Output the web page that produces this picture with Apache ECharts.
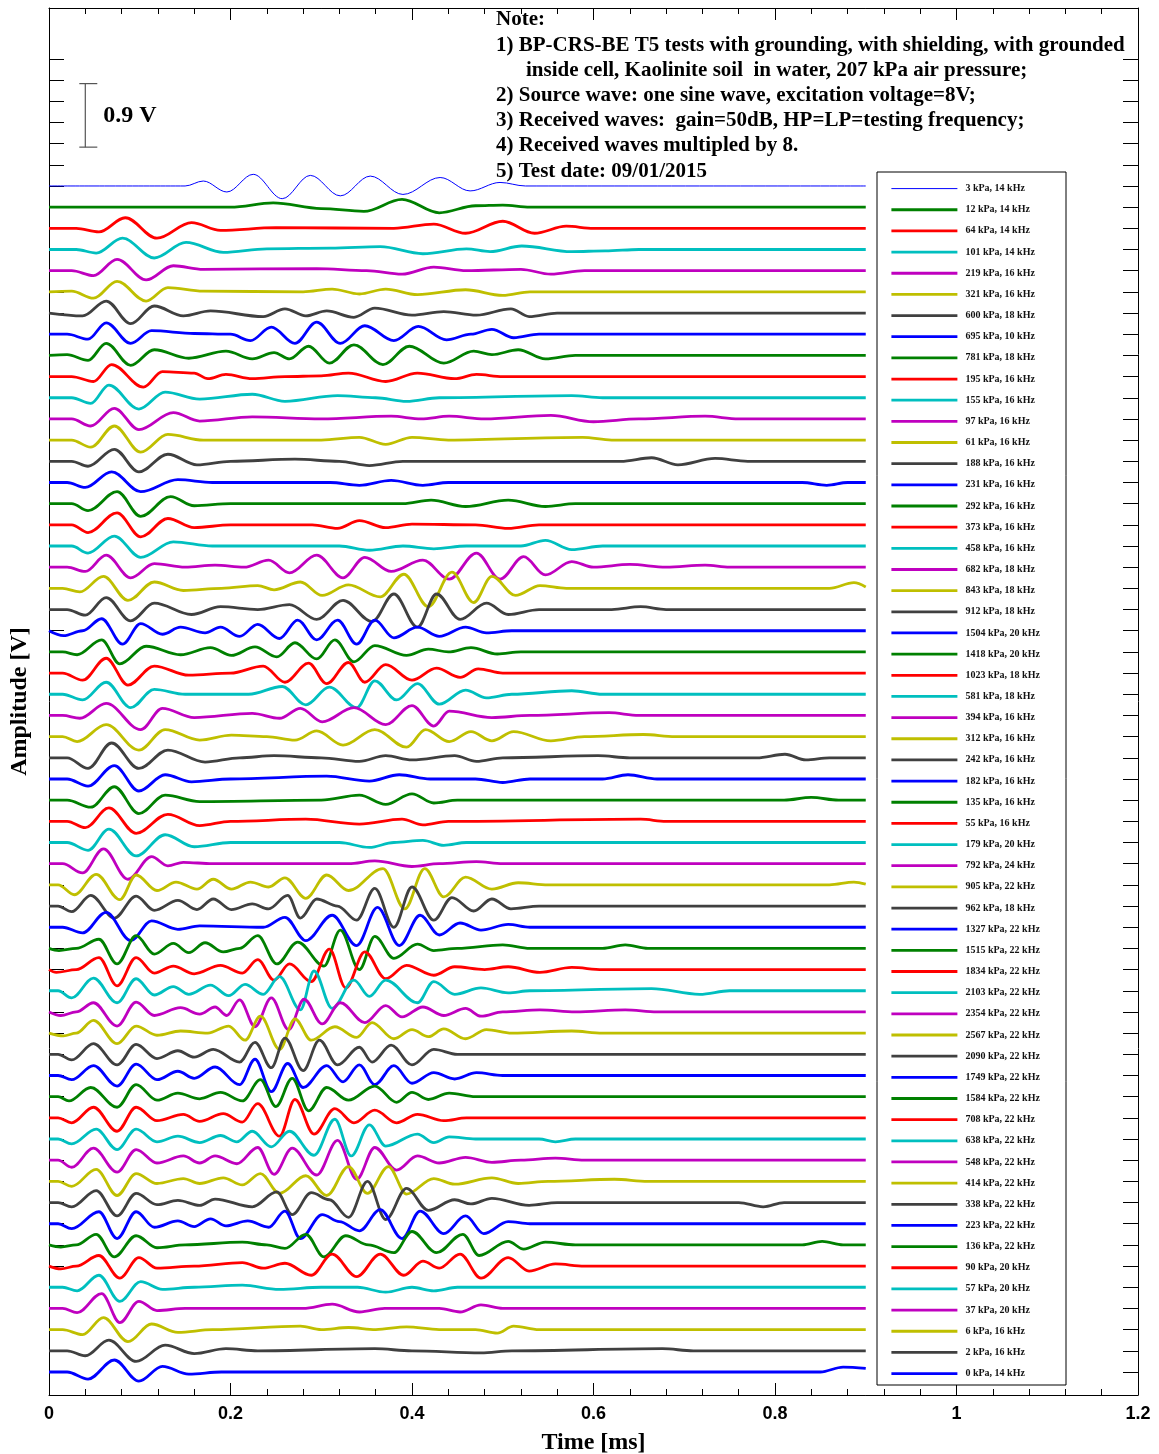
<!DOCTYPE html>
<html>
<head>
<meta charset="utf-8">
<script src="https://cdn.jsdelivr.net/npm/echarts@6/dist/echarts.min.js"></script>
<style>
  html, body { margin: 0; padding: 0; background: #fff; }
  #chart { width: 1159px; height: 1454px; }
</style>
</head>
<body>
<div id="chart"></div>
<script>
// legend labels: pressure (kPa) and test frequency (kHz), top trace first
const pressures = [3, 12, 64, 101, 219, 321, 600, 695, 781, 195, 155, 97, 61, 188, 231, 292, 373, 458, 682, 843,
  912, 1504, 1418, 1023, 581, 394, 312, 242, 182, 135, 55, 179, 792, 905, 962, 1327, 1515, 1834, 2103, 2354,
  2567, 2090, 1749, 1584, 708, 638, 548, 414, 338, 223, 136, 90, 57, 37, 6, 2, 0];
const freqs = [14, 14, 14, 14, 16, 16, 18, 10, 18, 16, 16, 16, 16, 16, 16, 16, 16, 16, 18, 18,
  18, 20, 20, 18, 18, 16, 16, 16, 16, 16, 16, 20, 24, 22, 18, 22, 22, 22, 22, 22,
  22, 22, 22, 22, 22, 22, 22, 22, 22, 22, 22, 20, 20, 20, 16, 16, 14];

// received waves, [time ms, amplitude V] (before vertical offset)
const wave00 = [[0,0],[0.150,0],[0.170,0.07],[0.196,-0.085],[0.225,0.165],[0.257,-0.18],[0.288,0.15],[0.321,-0.14],[0.354,0.14],[0.390,-0.12],[0.431,0.12],[0.464,-0.07],[0.497,0.05],[0.525,0],[0.9,0]];
const wave01 = [[0,0],[0.20,0],[0.247,0.06],[0.30,-0.02],[0.347,-0.06],[0.389,0.11],[0.43,-0.08],[0.47,0.02],[0.50,0.03],[0.53,0],[0.9,0]];
const wave02 = [[0,0],[0.03,0],[0.055,-0.05],[0.084,0.15],[0.119,-0.14],[0.157,0.08],[0.189,-0.03],[0.25,0.01],[0.38,0],[0.424,0.06],[0.459,-0.07],[0.500,0.10],[0.535,-0.07],[0.570,0.03],[0.60,0],[0.9,0]];
const wave03 = [[0,0],[0.03,0],[0.052,-0.05],[0.081,0.16],[0.116,-0.12],[0.151,0.10],[0.192,-0.04],[0.24,0.01],[0.31,0.02],[0.365,0.04],[0.412,-0.06],[0.46,0.01],[0.486,-0.03],[0.521,0.05],[0.576,-0.03],[0.613,-0.02],[0.65,0],[0.9,0]];
const wave04 = [[0,0],[0.025,0],[0.049,-0.07],[0.075,0.16],[0.107,-0.13],[0.137,0.07],[0.17,0.02],[0.295,0.03],[0.35,0],[0.389,-0.05],[0.424,0.05],[0.46,0],[0.52,0.02],[0.553,-0.05],[0.59,0],[0.9,0]];
const wave05 = [[0,0],[0.025,0.01],[0.049,-0.09],[0.075,0.15],[0.107,-0.13],[0.131,0.06],[0.17,0.01],[0.28,0],[0.312,0.04],[0.342,-0.03],[0.371,0.04],[0.406,-0.04],[0.459,0.03],[0.500,-0.05],[0.53,0],[0.9,0]];
const wave06 = [[0,0],[0.037,-0.04],[0.063,0.17],[0.090,-0.15],[0.116,0.10],[0.148,-0.04],[0.178,0.03],[0.236,-0.05],[0.260,0.06],[0.283,-0.04],[0.306,0.03],[0.336,-0.06],[0.359,0.07],[0.400,-0.03],[0.435,0.02],[0.471,-0.03],[0.509,0.06],[0.529,-0.05],[0.56,0],[0.9,0]];
const wave07 = [[0,0],[0.02,0],[0.043,-0.07],[0.063,0.16],[0.090,-0.13],[0.113,0.05],[0.16,0.01],[0.20,0],[0.222,-0.09],[0.245,0.10],[0.271,-0.13],[0.295,0.17],[0.321,-0.13],[0.348,0.12],[0.380,-0.09],[0.407,0.11],[0.438,-0.08],[0.465,0],[0.488,0.07],[0.512,-0.05],[0.54,0],[0.9,0]];
const wave08 = [[0,0],[0.02,0.01],[0.043,-0.07],[0.063,0.17],[0.090,-0.14],[0.116,0.08],[0.154,-0.04],[0.195,0.06],[0.224,-0.05],[0.248,0.04],[0.265,-0.05],[0.286,0.13],[0.309,-0.11],[0.336,0.15],[0.368,-0.13],[0.397,0.13],[0.435,-0.11],[0.468,0.06],[0.488,0.01],[0.517,0.08],[0.547,-0.05],[0.58,0],[0.9,0]];
const wave09 = [[0,0],[0.025,0],[0.049,-0.07],[0.069,0.17],[0.104,-0.15],[0.125,0.07],[0.16,0.05],[0.175,-0.03],[0.195,0.03],[0.224,-0.03],[0.26,0],[0.300,0.01],[0.330,0.05],[0.371,-0.07],[0.406,0.05],[0.447,-0.03],[0.471,0.03],[0.50,0],[0.9,0]];
const wave10 = [[0,0],[0.025,0],[0.046,-0.08],[0.066,0.18],[0.099,-0.16],[0.128,0.08],[0.166,-0.02],[0.224,0.05],[0.260,-0.05],[0.318,0.03],[0.36,0],[0.394,-0.05],[0.43,0],[0.576,0.03],[0.61,0],[0.9,0]];
const wave11 = [[0,0],[0.025,0],[0.046,-0.10],[0.072,0.15],[0.099,-0.15],[0.137,0.09],[0.166,-0.03],[0.224,0.03],[0.30,0],[0.377,0.04],[0.41,0],[0.441,0.04],[0.48,0],[0.553,0.05],[0.600,-0.04],[0.65,0],[0.723,0.04],[0.76,0],[0.9,0]];
const wave12 = [[0,0],[0.025,0],[0.046,-0.10],[0.072,0.20],[0.101,-0.17],[0.131,0.08],[0.17,0],[0.30,0],[0.342,0.04],[0.371,-0.06],[0.400,0.04],[0.44,0],[0.588,0.04],[0.62,0],[0.9,0]];
const wave13 = [[0,0],[0.025,0],[0.043,-0.07],[0.072,0.17],[0.099,-0.15],[0.131,0.10],[0.163,-0.05],[0.20,0],[0.271,0.03],[0.32,0],[0.353,-0.06],[0.39,0],[0.63,0],[0.664,0.05],[0.693,-0.05],[0.734,0.04],[0.77,0],[0.9,0]];
const wave14 = [[0,0],[0.02,0],[0.040,-0.07],[0.069,0.15],[0.101,-0.13],[0.142,0.04],[0.18,0],[0.31,0],[0.342,-0.04],[0.377,0.03],[0.412,-0.04],[0.44,0],[0.83,0],[0.857,-0.04],[0.88,0],[0.9,0]];
const wave15 = [[0,0],[0.025,0],[0.043,-0.10],[0.075,0.17],[0.101,-0.18],[0.134,0.10],[0.160,-0.03],[0.20,0],[0.39,0],[0.421,0.05],[0.459,-0.04],[0.506,0.05],[0.547,-0.04],[0.58,0],[0.9,0]];
const wave16 = [[0,0],[0.025,0],[0.043,-0.11],[0.075,0.17],[0.101,-0.17],[0.131,0.09],[0.160,-0.04],[0.20,0],[0.29,0],[0.318,-0.05],[0.342,0.06],[0.371,-0.04],[0.40,0.01],[0.47,0],[0.506,-0.05],[0.54,0],[0.9,0]];
const wave17 = [[0,0],[0.025,0],[0.043,-0.10],[0.072,0.14],[0.101,-0.16],[0.137,0.06],[0.18,0],[0.32,0],[0.353,-0.06],[0.39,0],[0.424,-0.04],[0.46,0],[0.52,0],[0.547,0.08],[0.576,-0.05],[0.61,0],[0.9,0]];
const wave18 = [[0,0],[0.02,0],[0.040,-0.06],[0.063,0.17],[0.090,-0.15],[0.116,0.05],[0.15,0],[0.183,0.03],[0.215,0],[0.242,0.10],[0.265,-0.08],[0.295,0.17],[0.324,-0.15],[0.348,0.14],[0.377,-0.06],[0.412,0.10],[0.441,-0.17],[0.471,0.20],[0.497,-0.17],[0.523,0.15],[0.547,-0.11],[0.576,0.08],[0.60,0],[0.640,0.04],[0.68,0],[0.723,0.03],[0.75,0],[0.9,0]];
const wave19 = [[0,0],[0.015,0],[0.034,-0.05],[0.060,0.17],[0.087,-0.17],[0.116,0.09],[0.148,-0.03],[0.19,0],[0.230,0.04],[0.248,-0.02],[0.277,0.09],[0.301,-0.10],[0.330,0.05],[0.365,-0.12],[0.391,0.20],[0.418,-0.26],[0.444,0.23],[0.468,-0.20],[0.488,0.17],[0.514,-0.10],[0.541,0.04],[0.57,0],[0.86,0],[0.887,0.08],[0.9,0.02]];
const wave20 = [[0,0],[0.02,0],[0.040,-0.08],[0.063,0.17],[0.090,-0.16],[0.116,0.09],[0.157,-0.07],[0.189,0.04],[0.23,0],[0.265,0.07],[0.295,-0.14],[0.324,0.13],[0.356,-0.17],[0.380,0.22],[0.406,-0.25],[0.427,0.22],[0.453,-0.14],[0.482,0.09],[0.506,-0.07],[0.54,0],[0.62,0],[0.652,0.04],[0.68,0],[0.9,0]];
const wave21 = [[0,0],[0.016,-0.07],[0.037,0],[0.058,0.17],[0.081,-0.19],[0.101,0.10],[0.125,-0.05],[0.145,0.05],[0.172,-0.03],[0.189,0.05],[0.210,-0.08],[0.230,0.09],[0.254,-0.11],[0.274,0.15],[0.295,-0.13],[0.318,0.15],[0.339,-0.19],[0.359,0.15],[0.380,-0.10],[0.406,0.05],[0.430,-0.08],[0.459,0.05],[0.482,-0.03],[0.51,0],[0.9,0]];
const wave22 = [[0,0],[0.015,0],[0.031,-0.04],[0.058,0.17],[0.078,-0.17],[0.107,0.08],[0.145,-0.04],[0.178,0.06],[0.201,-0.05],[0.227,0.07],[0.251,-0.07],[0.271,0.13],[0.295,-0.10],[0.315,0.17],[0.336,-0.14],[0.359,0.09],[0.394,-0.05],[0.418,0.04],[0.44,0],[0.465,0.06],[0.494,-0.03],[0.52,0],[0.9,0]];
const wave23 = [[0,0],[0.015,0],[0.037,-0.10],[0.063,0.21],[0.087,-0.17],[0.116,0.10],[0.154,-0.03],[0.20,0],[0.236,0.10],[0.260,-0.13],[0.286,0.14],[0.306,-0.15],[0.330,0.15],[0.348,-0.13],[0.371,0.12],[0.400,-0.10],[0.427,0.07],[0.453,-0.06],[0.473,0.06],[0.50,0],[0.9,0]];
const wave24 = [[0,0],[0.015,0],[0.037,-0.08],[0.063,0.17],[0.090,-0.19],[0.116,0.07],[0.15,0],[0.22,0],[0.257,0.11],[0.283,-0.15],[0.309,0.10],[0.339,-0.19],[0.359,0.19],[0.383,-0.08],[0.406,0.15],[0.430,-0.14],[0.459,0.06],[0.482,-0.05],[0.51,0],[0.576,0.05],[0.61,0],[0.9,0]];
const wave25 = [[0,0],[0.015,0],[0.034,-0.04],[0.063,0.17],[0.101,-0.20],[0.125,0.10],[0.160,-0.03],[0.224,0.03],[0.254,-0.04],[0.277,0.10],[0.301,-0.09],[0.336,0.11],[0.371,-0.13],[0.400,0.14],[0.424,-0.15],[0.441,0.06],[0.488,-0.03],[0.53,0],[0.617,0.04],[0.65,0],[0.9,0]];
const wave26 = [[0,0],[0.015,0],[0.031,-0.07],[0.063,0.17],[0.099,-0.19],[0.128,0.10],[0.166,-0.05],[0.201,0.02],[0.24,0],[0.271,-0.05],[0.295,0.08],[0.324,-0.12],[0.359,0.10],[0.394,-0.15],[0.415,0.10],[0.441,-0.07],[0.465,0.07],[0.488,-0.06],[0.512,0.07],[0.553,-0.06],[0.59,0],[0.655,0.03],[0.69,0],[0.9,0]];
const wave27 = [[0,0],[0.02,0],[0.043,-0.15],[0.069,0.21],[0.099,-0.15],[0.131,0.11],[0.172,-0.06],[0.21,0],[0.248,0.03],[0.30,0],[0.342,-0.05],[0.371,0.03],[0.400,-0.03],[0.447,0.03],[0.471,-0.05],[0.50,0],[0.605,0.03],[0.64,0],[0.78,0],[0.811,0.05],[0.834,-0.03],[0.86,0],[0.9,0]];
const wave28 = [[0,0],[0.02,0],[0.043,-0.10],[0.072,0.19],[0.099,-0.17],[0.128,0.06],[0.157,-0.04],[0.20,0],[0.306,0.04],[0.353,-0.03],[0.386,0.06],[0.42,0],[0.47,0],[0.500,-0.05],[0.53,0],[0.61,0],[0.638,0.06],[0.67,0],[0.9,0]];
const wave29 = [[0,0],[0.02,0],[0.046,-0.10],[0.072,0.19],[0.099,-0.19],[0.128,0.07],[0.166,-0.02],[0.30,0],[0.342,0.07],[0.371,-0.06],[0.400,0.09],[0.424,-0.04],[0.45,0],[0.81,0],[0.840,0.04],[0.87,0],[0.9,0]];
const wave30 = [[0,0],[0.02,0],[0.040,-0.09],[0.066,0.19],[0.096,-0.17],[0.131,0.10],[0.166,-0.06],[0.20,0],[0.283,0.03],[0.342,-0.04],[0.389,0.03],[0.412,-0.05],[0.44,0],[0.652,0.03],[0.68,0],[0.9,0]];
const wave31 = [[0,0],[0.02,0],[0.043,-0.11],[0.066,0.19],[0.096,-0.19],[0.128,0.11],[0.160,-0.06],[0.20,0],[0.32,0],[0.353,-0.07],[0.38,0],[0.412,0.03],[0.435,-0.04],[0.46,0],[0.9,0]];
const wave32 = [[0,0],[0.015,0],[0.037,-0.13],[0.060,0.21],[0.087,-0.22],[0.113,0.10],[0.131,-0.03],[0.148,0.02],[0.18,0],[0.33,0],[0.359,0.04],[0.400,-0.04],[0.43,0],[0.471,0.03],[0.50,0],[0.9,0]];
const wave33 = [[0,0],[0.01,0],[0.028,-0.14],[0.052,0.15],[0.078,-0.21],[0.096,0.14],[0.119,-0.08],[0.140,0.04],[0.163,-0.06],[0.181,0.08],[0.201,-0.06],[0.222,0.04],[0.242,-0.03],[0.260,0.10],[0.283,-0.19],[0.306,0.14],[0.330,-0.08],[0.368,0.23],[0.392,-0.34],[0.414,0.23],[0.435,-0.17],[0.459,0.11],[0.488,-0.06],[0.517,0.03],[0.55,0],[0.86,0],[0.887,0.04],[0.9,0.01]];
const wave34 = [[0,0],[0.01,0],[0.025,-0.08],[0.046,0.15],[0.072,-0.17],[0.096,0.14],[0.116,-0.06],[0.142,0.08],[0.163,-0.05],[0.181,0.10],[0.201,-0.05],[0.224,0.03],[0.242,-0.04],[0.263,0.15],[0.277,-0.17],[0.295,0.10],[0.318,0],[0.339,-0.20],[0.359,0.25],[0.380,-0.30],[0.400,0.27],[0.424,-0.20],[0.444,0.12],[0.468,-0.07],[0.488,0.10],[0.509,-0.04],[0.54,0],[0.9,0]];
const wave35 = [[0,0],[0.015,0],[0.037,-0.08],[0.063,0.21],[0.090,-0.19],[0.113,0.09],[0.142,-0.03],[0.166,0.02],[0.236,0],[0.260,0.14],[0.283,-0.19],[0.312,0.17],[0.339,-0.26],[0.362,0.28],[0.386,-0.26],[0.409,0.17],[0.430,-0.11],[0.453,0.06],[0.476,-0.04],[0.506,0.04],[0.53,0],[0.9,0]];
const wave36 = [[0,0],[0.011,-0.03],[0.03,0],[0.055,0.13],[0.075,-0.22],[0.096,0.18],[0.116,-0.08],[0.137,0.07],[0.154,-0.06],[0.172,0.08],[0.192,-0.05],[0.21,0],[0.230,0.18],[0.251,-0.22],[0.274,0.09],[0.303,-0.25],[0.321,0.26],[0.342,-0.30],[0.359,0.17],[0.380,-0.14],[0.406,0.06],[0.424,-0.03],[0.45,0],[0.500,0.05],[0.53,0],[0.61,0],[0.635,0.05],[0.66,0],[0.9,0]];
const wave37 = [[0,0],[0.008,-0.04],[0.03,0],[0.055,0.17],[0.075,-0.23],[0.096,0.17],[0.116,-0.05],[0.137,0.05],[0.160,-0.06],[0.189,0.06],[0.213,-0.05],[0.230,0.14],[0.248,-0.15],[0.265,0.08],[0.289,-0.17],[0.309,0.29],[0.327,-0.26],[0.348,0.25],[0.371,-0.13],[0.394,0.06],[0.424,-0.08],[0.447,0.04],[0.48,0],[0.506,0.04],[0.541,-0.04],[0.576,0.03],[0.61,0],[0.9,0]];
const wave38 = [[0,0],[0.01,0],[0.025,-0.10],[0.049,0.18],[0.075,-0.17],[0.096,0.17],[0.116,-0.06],[0.137,0.06],[0.154,-0.05],[0.178,0.08],[0.198,-0.07],[0.216,0.09],[0.236,-0.05],[0.254,0.20],[0.277,-0.27],[0.292,0.28],[0.312,-0.25],[0.336,0.15],[0.353,-0.08],[0.371,0.15],[0.406,-0.17],[0.424,0.13],[0.447,-0.05],[0.476,0.04],[0.506,-0.03],[0.53,0],[0.664,0.03],[0.717,-0.05],[0.75,0],[0.9,0]];
const wave39 = [[0,0],[0.013,-0.05],[0.03,0],[0.049,0.13],[0.075,-0.20],[0.096,0.14],[0.116,-0.05],[0.145,0.06],[0.166,-0.03],[0.183,0.07],[0.196,-0.05],[0.210,0.17],[0.227,-0.21],[0.245,0.20],[0.264,-0.25],[0.281,0.18],[0.301,-0.17],[0.321,0.13],[0.348,-0.15],[0.371,0.09],[0.389,-0.07],[0.412,0.07],[0.435,-0.05],[0.459,0.05],[0.476,-0.06],[0.50,0],[0.541,0.03],[0.58,0],[0.635,0.03],[0.67,0],[0.9,0]];
const wave40 = [[0,0],[0.016,-0.04],[0.03,0],[0.049,0.18],[0.075,-0.15],[0.096,0.10],[0.119,-0.03],[0.145,0.03],[0.175,0],[0.198,0.10],[0.216,-0.10],[0.233,0.24],[0.254,-0.23],[0.271,0.20],[0.289,-0.10],[0.315,0.09],[0.339,-0.06],[0.356,0.15],[0.380,-0.08],[0.400,0.05],[0.418,-0.05],[0.435,0.06],[0.459,-0.08],[0.482,0.05],[0.51,0],[0.576,0.03],[0.61,0],[0.9,0]];
const wave41 = [[0,0],[0.01,0],[0.025,-0.08],[0.049,0.15],[0.075,-0.15],[0.096,0.14],[0.119,-0.06],[0.142,0.05],[0.160,-0.04],[0.181,0.07],[0.210,-0.11],[0.227,0.17],[0.245,-0.19],[0.260,0.23],[0.280,-0.23],[0.298,0.20],[0.318,-0.15],[0.342,0.10],[0.356,-0.11],[0.377,0.13],[0.400,-0.15],[0.424,0.07],[0.45,0],[0.9,0]];
const wave42 = [[0,0],[0.01,0],[0.025,-0.06],[0.049,0.14],[0.075,-0.15],[0.096,0.16],[0.119,-0.06],[0.142,0.06],[0.160,-0.04],[0.183,0.12],[0.210,-0.13],[0.227,0.23],[0.245,-0.23],[0.263,0.17],[0.280,-0.17],[0.306,0.14],[0.324,-0.09],[0.342,0.15],[0.359,-0.13],[0.380,0.14],[0.400,-0.11],[0.424,0.04],[0.447,-0.05],[0.471,0.04],[0.50,0],[0.9,0]];
const wave43 = [[0,0],[0.01,0],[0.022,-0.06],[0.046,0.13],[0.075,-0.15],[0.096,0.17],[0.119,-0.05],[0.142,0.05],[0.166,-0.03],[0.189,0.06],[0.213,-0.06],[0.233,0.24],[0.250,-0.14],[0.268,0.26],[0.286,-0.20],[0.306,0.13],[0.330,-0.05],[0.359,0.15],[0.383,-0.08],[0.400,0.06],[0.418,-0.04],[0.441,0.05],[0.47,0],[0.9,0]];
const wave44 = [[0,0],[0.01,0],[0.025,-0.07],[0.049,0.15],[0.075,-0.19],[0.096,0.15],[0.119,-0.04],[0.148,0.05],[0.166,-0.05],[0.192,0.06],[0.213,-0.06],[0.230,0.20],[0.254,-0.26],[0.271,0.26],[0.292,-0.23],[0.315,0.13],[0.336,-0.07],[0.359,0.11],[0.383,-0.07],[0.406,0.05],[0.435,-0.04],[0.46,0],[0.9,0]];
const wave45 = [[0,0],[0.01,0],[0.025,-0.07],[0.052,0.14],[0.075,-0.15],[0.096,0.14],[0.119,-0.04],[0.142,0.04],[0.166,-0.05],[0.189,0.05],[0.207,-0.04],[0.224,0.11],[0.245,-0.11],[0.265,0.11],[0.292,-0.23],[0.315,0.28],[0.333,-0.24],[0.353,0.20],[0.371,-0.10],[0.406,0.07],[0.424,-0.05],[0.441,0.03],[0.47,0],[0.54,0],[0.558,-0.04],[0.58,0],[0.9,0]];
const wave46 = [[0,0],[0.01,0],[0.025,-0.10],[0.049,0.17],[0.075,-0.17],[0.096,0.15],[0.119,-0.04],[0.148,0.06],[0.166,-0.04],[0.183,0.06],[0.207,-0.05],[0.230,0.18],[0.248,-0.20],[0.268,0.17],[0.295,-0.21],[0.318,0.28],[0.339,-0.27],[0.359,0.18],[0.383,-0.14],[0.406,0.06],[0.430,-0.04],[0.459,0.04],[0.488,-0.03],[0.52,0],[0.558,0.03],[0.59,0],[0.9,0]];
const wave47 = [[0,0],[0.01,0],[0.025,-0.07],[0.052,0.17],[0.075,-0.20],[0.096,0.11],[0.119,-0.03],[0.148,0.04],[0.166,-0.03],[0.192,0.05],[0.213,-0.05],[0.233,0.11],[0.254,-0.17],[0.283,0.08],[0.306,-0.20],[0.330,0.21],[0.351,-0.17],[0.374,0.21],[0.394,-0.18],[0.424,0.04],[0.447,-0.04],[0.488,0.05],[0.517,-0.03],[0.55,0],[0.623,0.03],[0.66,0],[0.9,0]];
const wave48 = [[0,0],[0.01,0],[0.025,-0.06],[0.052,0.17],[0.075,-0.19],[0.096,0.13],[0.119,-0.03],[0.142,0.03],[0.166,-0.04],[0.183,0.05],[0.224,-0.06],[0.251,0.15],[0.268,-0.17],[0.289,0.14],[0.309,0.04],[0.330,-0.21],[0.351,0.30],[0.371,-0.24],[0.394,0.20],[0.418,-0.11],[0.447,0.04],[0.465,-0.02],[0.488,0.06],[0.529,-0.04],[0.56,0],[0.76,0],[0.787,-0.06],[0.81,0],[0.9,0]];
const wave49 = [[0,0],[0.01,0],[0.025,-0.07],[0.055,0.17],[0.075,-0.21],[0.096,0.17],[0.116,-0.05],[0.142,0.04],[0.160,-0.04],[0.178,0.07],[0.195,-0.03],[0.219,0.04],[0.242,-0.05],[0.260,0.18],[0.277,-0.21],[0.301,0.13],[0.320,0.03],[0.342,-0.10],[0.365,0.20],[0.389,-0.21],[0.409,0.18],[0.435,-0.14],[0.459,0.11],[0.479,-0.14],[0.506,0.03],[0.53,0],[0.9,0]];
const wave50 = [[0,0],[0.013,-0.03],[0.03,0],[0.052,0.15],[0.072,-0.17],[0.096,0.13],[0.119,-0.04],[0.15,0],[0.213,0.04],[0.24,0],[0.260,-0.05],[0.283,0.15],[0.303,-0.17],[0.327,0.13],[0.352,0],[0.380,-0.11],[0.400,0.19],[0.427,-0.11],[0.456,0.15],[0.474,-0.15],[0.506,0.05],[0.523,-0.06],[0.547,0.04],[0.58,0],[0.83,0],[0.852,0.05],[0.875,0],[0.9,0]];
const wave51 = [[0,0],[0.013,-0.04],[0.03,0],[0.055,0.15],[0.078,-0.17],[0.099,0.12],[0.119,-0.03],[0.16,0],[0.213,0.05],[0.236,-0.03],[0.260,0.04],[0.289,-0.13],[0.312,0.17],[0.339,-0.15],[0.365,0.17],[0.391,-0.13],[0.412,0.07],[0.430,-0.03],[0.453,0.17],[0.476,-0.17],[0.506,0.12],[0.529,-0.07],[0.558,0.03],[0.59,0],[0.9,0]];
const wave52 = [[0,0],[0.015,0],[0.031,-0.05],[0.055,0.17],[0.078,-0.20],[0.101,0.08],[0.125,-0.03],[0.16,0],[0.213,0.03],[0.254,-0.03],[0.30,0],[0.34,0],[0.371,-0.07],[0.40,0],[0.424,-0.05],[0.45,0],[0.9,0]];
const wave53 = [[0,0],[0.015,0],[0.031,-0.06],[0.058,0.21],[0.078,-0.20],[0.099,0.10],[0.119,-0.03],[0.15,0],[0.28,0],[0.312,0.06],[0.342,-0.05],[0.37,0],[0.43,0],[0.453,-0.05],[0.476,0.05],[0.50,0],[0.9,0]];
const wave54 = [[0,0],[0.015,0],[0.037,-0.07],[0.060,0.17],[0.087,-0.17],[0.113,0.08],[0.142,-0.04],[0.18,0],[0.277,0.05],[0.30,0],[0.330,0.03],[0.36,0],[0.394,0.04],[0.43,0],[0.47,0],[0.494,-0.05],[0.512,0.05],[0.54,0],[0.9,0]];
const wave55 = [[0,0],[0.02,0],[0.040,-0.07],[0.066,0.15],[0.096,-0.15],[0.128,0.08],[0.160,-0.04],[0.195,0.03],[0.23,0],[0.359,0.03],[0.40,0],[0.476,-0.03],[0.51,0],[0.676,0.03],[0.71,0],[0.9,0]];
const wave56 = [[0,0],[0.02,0],[0.043,-0.10],[0.072,0.17],[0.099,-0.13],[0.125,0.08],[0.154,-0.03],[0.19,0],[0.85,0],[0.875,0.07],[0.9,0.05]];

const waves = [wave00, wave01, wave02, wave03, wave04, wave05, wave06, wave07, wave08, wave09,
  wave10, wave11, wave12, wave13, wave14, wave15, wave16, wave17, wave18, wave19,
  wave20, wave21, wave22, wave23, wave24, wave25, wave26, wave27, wave28, wave29,
  wave30, wave31, wave32, wave33, wave34, wave35, wave36, wave37, wave38, wave39,
  wave40, wave41, wave42, wave43, wave44, wave45, wave46, wave47, wave48, wave49,
  wave50, wave51, wave52, wave53, wave54, wave55, wave56];

// traces are stacked 0.3 V apart, bottom trace on 0 V
const traceStep = 0.3;
// scale bar: time position, bottom and length in V
const scaleBarTime = 0.04;
const scaleBarBottom = 17.35;
const scaleBarLength = 0.9;

const noteLines = [
  'Note:',
  '1) BP-CRS-BE T5 tests with grounding, with shielding, with grounded',
  'inside cell, Kaolinite soil  in water, 207 kPa air pressure;',
  '2) Source wave: one sine wave, excitation voltage=8V;',
  '3) Received waves:  gain=50dB, HP=LP=testing frequency;',
  '4) Received waves multipled by 8.',
  '5) Test date: 09/01/2015'
];

const palette = ['#0000ff', '#008000', '#ff0000', '#00bfbf', '#bf00bf', '#bfbf00', '#404040'];
const serif = '"Liberation Serif", "Times New Roman", serif';
const sans = '"Liberation Sans", Arial, sans-serif';

const labels = pressures.map((p, i) => p + ' kPa, ' + freqs[i] + ' kHz');
const nTrace = waves.length;

// tick marks sit on every trace baseline (and a few above the top trace)
let yTicks = [];
for (let i = 0; i <= 62; i++) yTicks.push(+(i * traceStep).toFixed(2));

let chart = echarts.init(document.getElementById('chart'), null, { renderer: 'canvas' });

let lineWidth = k => (k === 0 ? 1 : 2.8);

let series = waves.map((w, k) => {
  let base = (nTrace - 1 - k) * traceStep;
  let color = palette[k % palette.length];
  return {
    name: labels[k],
    type: 'line',
    xAxisIndex: 0,
    yAxisIndex: 0,
    data: w.map(p => [p[0], base + p[1]]),
    smooth: 0.35,
    smoothMonotone: 'x',
    symbol: 'none',
    silent: true,
    color: color,
    lineStyle: { color: color, width: lineWidth(k) },
    z: 3
  };
});

// scale bar with its label
series.push({
  type: 'custom',
  xAxisIndex: 0,
  yAxisIndex: 0,
  silent: true,
  clip: false,
  data: [[scaleBarTime, scaleBarBottom, scaleBarBottom + scaleBarLength]],
  renderItem: function(params, api) {
    let bottom = api.coord([api.value(0), api.value(1)]);
    let top = api.coord([api.value(0), api.value(2)]);
    let st = { stroke: '#555', lineWidth: 1.2 };
    return {
      type: 'group',
      children: [
        { type: 'line', shape: { x1: top[0], y1: top[1], x2: bottom[0], y2: bottom[1] }, style: st },
        { type: 'line', shape: { x1: top[0] - 6, y1: top[1], x2: top[0] + 12, y2: top[1] }, style: st },
        { type: 'line', shape: { x1: bottom[0] - 6, y1: bottom[1], x2: bottom[0] + 12, y2: bottom[1] }, style: st },
        { type: 'text', style: { x: top[0] + 18, y: (top[1] + bottom[1]) / 2, text: scaleBarLength + ' V',
          font: 'bold 24px ' + serif, fill: '#000', verticalAlign: 'middle' } }
      ]
    };
  }
});

let axisLineStyle = { color: '#000', width: 1 };

let xAxisBase = {
  type: 'value',
  min: 0,
  max: 1.2,
  interval: 0.2,
  axisLine: { show: true, onZero: false, lineStyle: axisLineStyle },
  axisTick: { show: true, inside: true, length: 12, lineStyle: axisLineStyle },
  minorTick: { show: true, splitNumber: 5, length: 6, lineStyle: axisLineStyle },
  splitLine: { show: false },
  minorSplitLine: { show: false }
};

let yAxisBase = {
  type: 'value',
  min: -0.326,
  max: 19.321,
  axisLine: { show: true, onZero: false, lineStyle: axisLineStyle },
  axisTick: { show: true, inside: true, length: 15, customValues: yTicks, lineStyle: axisLineStyle },
  axisLabel: { show: false, customValues: yTicks },
  splitLine: { show: false }
};

let graphics = [{
  type: 'rect',
  shape: { x: 877, y: 172, width: 189, height: 1213 },
  style: { fill: '#fff', stroke: '#000', lineWidth: 1 },
  z: 1
}];
noteLines.forEach((line, i) => {
  graphics.push({
    type: 'text',
    x: i === 2 ? 526 : 496,
    y: 20 + i * 25.2,
    style: { text: line, font: 'bold 21px ' + serif, fill: '#000', verticalAlign: 'middle' },
    z: 5
  });
});

chart.setOption({
  animation: false,
  backgroundColor: '#fff',
  grid: { left: 49, right: 21, top: 8, bottom: 59, containLabel: false, outerBoundsMode: 'none' },
  xAxis: [
    Object.assign({}, xAxisBase, {
      position: 'bottom',
      axisLabel: { show: true, margin: 10, color: '#000', fontFamily: sans, fontWeight: 'bold', fontSize: 18 },
      name: 'Time [ms]',
      nameLocation: 'middle',
      nameGap: 36,
      nameTextStyle: { color: '#000', fontFamily: serif, fontWeight: 'bold', fontSize: 24 }
    }),
    Object.assign({}, xAxisBase, { position: 'top', axisLabel: { show: false } })
  ],
  yAxis: [
    Object.assign({}, yAxisBase, {
      position: 'left',
      name: 'Amplitude [V]',
      nameLocation: 'middle',
      nameRotate: 90,
      nameGap: 17,
      nameTextStyle: { color: '#000', fontFamily: serif, fontWeight: 'bold', fontSize: 24 }
    }),
    Object.assign({}, yAxisBase, { position: 'right' })
  ],
  legend: {
    show: true,
    orient: 'vertical',
    left: 890,
    top: 183,
    padding: 0,
    itemWidth: 66,
    itemHeight: 14,
    itemGap: 9.96,
    selectedMode: false,
    data: labels.map((name, k) => ({ name: name, lineStyle: { width: lineWidth(k) } })),
    itemStyle: { opacity: 0 },
    textStyle: { color: '#111', fontFamily: serif, fontWeight: 'bold', fontSize: 10, padding: [4, 0, 0, 3] },
    z: 6
  },
  graphic: graphics,
  series: series
});

window.addEventListener('resize', () => { chart.resize(); });
</script>
</body>
</html>
